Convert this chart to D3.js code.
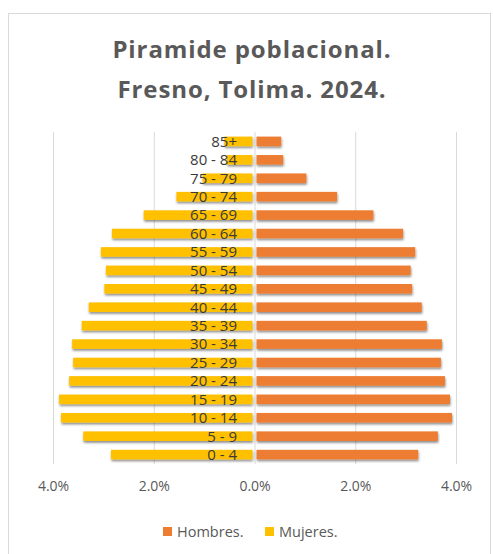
<!DOCTYPE html>
<html>
<head>
<meta charset="utf-8">
<script src="https://cdn.jsdelivr.net/npm/d3@7"></script>
<style>
  body { margin: 0; background: #fff; }
  text { font-family: "Open Sans", sans-serif; }
</style>
</head>
<body>
<div id="chart"></div>
<script>
// age groups, top to bottom
var grupos = ["85+", "80 - 84", "75 - 79", "70 - 74", "65 - 69", "60 - 64", "55 - 59", "50 - 54", "45 - 49",
  "40 - 44", "35 - 39", "30 - 34", "25 - 29", "20 - 24", "15 - 19", "10 - 14", "5 - 9", "0 - 4"];

// percent of population
var hombres = [0.53, 0.57, 1.03, 1.64, 2.36, 2.95, 3.19, 3.10, 3.13, 3.32, 3.42, 3.72, 3.70, 3.78, 3.88, 3.92, 3.64, 3.25];
var mujeres = [0.60, 0.55, 1.03, 1.55, 2.20, 2.83, 3.05, 2.95, 2.98, 3.29, 3.43, 3.62, 3.60, 3.68, 3.88, 3.84, 3.40, 2.85];

var ticks = [-4, -2, 0, 2, 4];
var titulo = ["Piramide poblacional.", "Fresno, Tolima. 2024."];
var series = [{name: "Hombres.", color: "#ED7D31"}, {name: "Mujeres.", color: "#FFC000"}];

var W = 493, H = 554;

var svg = d3.select("#chart").append("svg")
    .attr("width", W)
    .attr("height", H);

// drop shadow like excel
var defs = svg.append("defs");
defs.append("filter").attr("id", "sombra")
    .attr("x", "-5%").attr("y", "-50%").attr("width", "110%").attr("height", "220%")
  .append("feDropShadow")
    .attr("dx", 0.5).attr("dy", 1.8).attr("stdDeviation", 1)
    .attr("flood-color", "#000").attr("flood-opacity", 0.45);

// chart frame
svg.append("rect")
    .attr("x", 8.5).attr("y", 13.5)
    .attr("width", 482).attr("height", 560)
    .attr("fill", "#fff")
    .attr("stroke", "#d9d9d9");

// title
svg.selectAll("text.titulo")
    .data(titulo).enter().append("text")
    .attr("class", "titulo")
    .attr("x", 252)
    .attr("y", function (d, i) { return 58 + i * 40; })
    .attr("text-anchor", "middle")
    .attr("font-size", 24)
    .attr("letter-spacing", 0.9)
    .attr("font-weight", "bold")
    .attr("fill", "#595959")
    .text(function (d) { return d; });

var x = d3.scaleLinear().domain([-4, 4]).range([53, 456]);
var y = d3.scaleBand().domain(grupos).range([132, 464]).paddingInner(0.48).paddingOuter(0.25);

// gridlines
svg.append("g").selectAll("line")
    .data(ticks).enter().append("line")
    .attr("x1", function (d) { return x(d) + 0.5; })
    .attr("x2", function (d) { return x(d) + 0.5; })
    .attr("y1", 132).attr("y2", 464)
    .attr("stroke", "#d9d9d9");

// bars
var bars = svg.append("g").attr("filter", "url(#sombra)");

bars.selectAll("rect.muj")
    .data(mujeres).enter().append("rect")
    .attr("class", "muj")
    .attr("x", function (d) { return x(-d); })
    .attr("y", function (d, i) { return y(grupos[i]); })
    .attr("width", function (d) { return x(0) - x(-d) - 2; })
    .attr("height", y.bandwidth())
    .attr("fill", series[1].color);

bars.selectAll("rect.hom")
    .data(hombres).enter().append("rect")
    .attr("class", "hom")
    .attr("x", x(0) + 2)
    .attr("y", function (d, i) { return y(grupos[i]); })
    .attr("width", function (d) { return x(d) - x(0) - 2; })
    .attr("height", y.bandwidth())
    .attr("fill", series[0].color);

// category labels
svg.append("g").selectAll("text")
    .data(grupos).enter().append("text")
    .attr("x", 237)
    .attr("y", function (d) { return y(d) + y.bandwidth() / 2; })
    .attr("dy", "0.36em")
    .attr("text-anchor", "end")
    .attr("font-family", "Liberation Sans, sans-serif")
    .attr("font-size", 15)
    .attr("fill", "#3a3a3a")
    .text(function (d) { return d; });

// bottom axis
var axis = d3.axisBottom(x)
    .tickValues(ticks)
    .tickSize(0)
    .tickPadding(0)
    .tickFormat(function (d) { return Math.abs(d).toFixed(1) + "%"; });

var ax = svg.append("g").attr("transform", "translate(0,481)").call(axis);
ax.select(".domain").remove();
ax.selectAll("text")
    .attr("font-family", "Open Sans, sans-serif")
    .attr("font-size", 14)
    .attr("fill", "#595959");

// legend
var leg = svg.append("g").attr("transform", "translate(163,527)");
var item = leg.selectAll("g")
    .data(series).enter().append("g")
    .attr("transform", function (d, i) { return "translate(" + (i * 102) + ",0)"; });
item.append("rect")
    .attr("width", 9).attr("height", 9)
    .attr("fill", function (d) { return d.color; });
item.append("text")
    .attr("x", 14).attr("y", 4.5)
    .attr("dy", "0.35em")
    .attr("font-size", 14.5)
    .attr("fill", "#595959")
    .text(function (d) { return d.name; });
</script>
</body>
</html>
